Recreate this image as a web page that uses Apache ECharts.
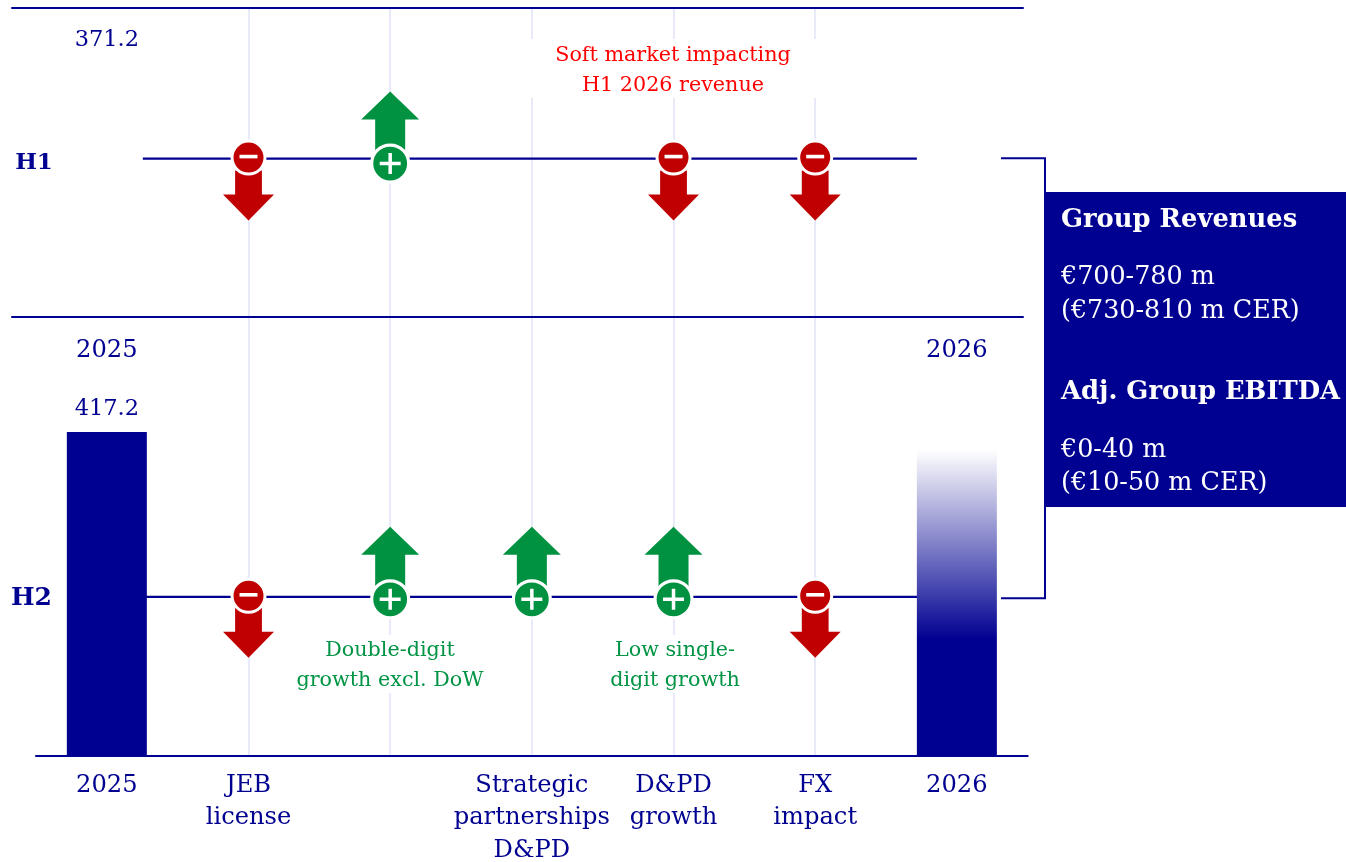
<!DOCTYPE html>
<html><head><meta charset="utf-8">
<style>html,body{margin:0;padding:0;background:#fff}#c{width:1346px;height:862px}</style>
<script src="https://cdn.jsdelivr.net/npm/echarts@6/dist/echarts.min.js"></script>
</head><body><div id="c"></div>
<script>
const h2Categories = ['2025', 'JEB\nlicense', '', 'Strategic\npartnerships\nD&PD', 'D&PD\ngrowth', 'FX\nimpact', '2026'];
const h1Categories = ['2025', '', '', '', '', '', '2026'];
const h1Bars = [371.2, null, null, null, null, null, null];
const h2Bars = [417.2, null, null, null, null, null, 394];
const h1Level = 222;
const h2Level = 205;
const h1Direction = [0, -1, 1, 0, -1, -1, 0];
const h2Direction = [0, -1, 1, 1, 1, -1, 0];
const boxLines = [
  ['Group Revenues', true, 220], ['€700-780 m', false, 277], ['(€730-810 m CER)', false, 311],
  ['Adj. Group EBITDA', true, 392], ['€0-40 m', false, 450], ['(€10-50 m CER)', false, 483]
];
const notes = [
  ['Soft market impacting\nH1 2026 revenue', 673, 71, '#ff0000'],
  ['Double-digit\ngrowth excl. DoW', 390, 666, '#009444'],
  ['Low single-\ndigit growth', 675, 666, '#009444']
];

const NAVY = '#000091', RED = '#c00000', GREEN = '#009240', GRID = '#e8eafa';
const FONT = '"DejaVu Serif", serif';
const ARROW_UP = 'path://M29 0L58 28L44 28L44 60L14 60L14 28L0 28Z';
const ARROW_DOWN = 'path://M12.1 0L38.9 0L38.9 24L51 24L25.5 50L0 24L12.1 24Z';
const PLUS = 'path://M8.75 0L12.25 0L12.25 8.75L21 8.75L21 12.25L12.25 12.25L12.25 21L8.75 21L8.75 12.25L0 12.25L0 8.75L8.75 8.75Z';

function pts(dir, sign, level) {
  return dir.map((d, i) => d === sign ? [i, level] : null).filter(Boolean);
}
function scatter(idx, data, o) {
  return Object.assign({ type: 'scatter', xAxisIndex: idx, yAxisIndex: idx, data, silent: true, animation: false }, o);
}
function solid(c, extra) { return Object.assign({ color: c, opacity: 1 }, extra || {}); }
function rowSeries(idx, cats, level, dir, plusOff, upOff, downOff) {
  const gridLines = [1, 2, 3, 4, 5].map(i => ({ xAxis: i }));
  return [
    { type: 'line', xAxisIndex: idx, yAxisIndex: idx, z: 2, silent: true, animation: false, symbol: 'none',
      data: cats.map((c, i) => [i, level]), lineStyle: { color: NAVY, width: 2.2 },
      markLine: { silent: true, symbol: 'none', animation: false, z: 1, label: { show: false },
        lineStyle: { color: GRID, width: 2, type: 'solid' }, data: gridLines } },
    scatter(idx, pts(dir, 1, level), { z: 6, symbol: ARROW_UP, symbolSize: [58, 60], symbolOffset: [0, upOff], itemStyle: solid(GREEN) }),
    scatter(idx, pts(dir, -1, level), { z: 6, symbol: ARROW_DOWN, symbolSize: [51, 50], symbolOffset: [0, downOff], itemStyle: solid(RED) }),
    scatter(idx, pts(dir, 1, level), { z: 7, symbol: 'circle', symbolSize: 37, symbolOffset: [0, plusOff], itemStyle: solid(GREEN, { borderColor: '#fff', borderWidth: 3.2 }) }),
    scatter(idx, pts(dir, -1, level), { z: 7, symbol: 'circle', symbolSize: 33, symbolOffset: [0, -1], itemStyle: solid(RED, { borderColor: '#fff', borderWidth: 3 }) }),
    scatter(idx, pts(dir, 1, level), { z: 8, symbol: PLUS, symbolSize: 21, symbolOffset: [0, plusOff], itemStyle: solid('#fff') }),
    scatter(idx, pts(dir, -1, level), { z: 8, symbol: 'rect', symbolSize: [18, 3.6], symbolOffset: [0, -2], itemStyle: solid('#fff') })
  ];
}
function catAxis(idx, cats, showLine, margin) {
  return { type: 'category', gridIndex: idx, data: cats, position: 'bottom', z: 5,
    axisTick: { show: false },
    axisLine: { show: showLine, onZero: false, lineStyle: { color: NAVY, width: 2 } },
    axisLabel: { interval: 0, color: NAVY, fontFamily: FONT, fontSize: 24.2, lineHeight: 32.5, margin, overflow: 'none', hideOverlap: false },
    splitLine: { show: false } };
}
function valAxis(idx, max) {
  return { type: 'value', gridIndex: idx, min: 0, max, show: false, splitLine: { show: false } };
}
function frameAxis(position) {
  return { type: 'value', gridIndex: 2, min: 0, max: 1, position, z: 5, axisLabel: { show: false }, axisTick: { show: false },
    splitLine: { show: false }, axisLine: { show: true, onZero: false, lineStyle: { color: NAVY, width: 2 } } };
}

const chart = echarts.init(document.getElementById('c'), null, { renderer: 'canvas' });
chart.setOption({
  animation: false,
  backgroundColor: '#fff',
  textStyle: { fontFamily: FONT },
  grid: [
    { left: 36, top: 8, width: 991.7, height: 309, outerBoundsMode: 'none' },
    { left: 36, top: 317, width: 991.7, height: 439, outerBoundsMode: 'none' },
    { left: 12, top: 8, width: 1011, height: 309, outerBoundsMode: 'none' }
  ],
  xAxis: [catAxis(0, h1Categories, false, 17), catAxis(1, h2Categories, true, 13), frameAxis('top'), frameAxis('bottom')],
  yAxis: [valAxis(0, 433), valAxis(1, 565.3), valAxis(2, 1)],
  series: [
    ...rowSeries(0, h1Categories, h1Level, h1Direction, 5, -37, 37),
    ...rowSeries(1, h2Categories, h2Level, h2Direction, 2.5, -40, 36),
    { type: 'bar', xAxisIndex: 0, yAxisIndex: 0, z: 4, silent: true, animation: false, barWidth: 72,
      data: h1Bars, itemStyle: { color: '#fff' },
      label: { show: true, position: 'top', distance: 0, color: NAVY, fontFamily: FONT, fontSize: 22.5, formatter: p => p.value.toFixed(1) } },
    scatter(0, [[6, h1Level]], { z: 4, symbol: 'rect', symbolSize: [80, 8], itemStyle: solid('#fff') }),
    { type: 'bar', xAxisIndex: 1, yAxisIndex: 1, z: 4, silent: true, animation: false, barWidth: 80,
      data: h2Bars.map((v, i) => i === 6 ? ({ value: v, itemStyle: { color: { type: 'linear', x: 0, y: 0, x2: 0, y2: 1,
        colorStops: [{ offset: 0, color: '#ffffff' }, { offset: 0.62, color: NAVY }, { offset: 1, color: NAVY }] } }, label: { show: false } }) :
        ({ value: v, itemStyle: { color: NAVY }, label: { show: i === 0 } })),
      label: { show: true, position: 'top', distance: 11, color: NAVY, fontFamily: FONT, fontSize: 22.5, formatter: p => p.value.toFixed(1) } },
    { type: 'line', xAxisIndex: 2, yAxisIndex: 2, data: [], silent: true },
    { type: 'line', xAxisIndex: 3, yAxisIndex: 2, data: [], silent: true }
  ],
  graphic: [
    { type: 'polyline', z: 20, shape: { points: [[1001, 158.3], [1045, 158.3], [1045, 598.3], [1001, 598.3]] }, style: { stroke: NAVY, lineWidth: 2, fill: 'none' } },
    { type: 'rect', z: 21, shape: { x: 1045, y: 192, width: 301, height: 315 }, style: { fill: NAVY } },
    ...boxLines.map(([t, b, y]) => ({ type: 'text', z: 22, x: 1061, y, style: { text: t, fill: '#fff', font: (b ? 'bold 25.8px ' : '25.4px ') + FONT, textAlign: 'left', textVerticalAlign: 'middle' } })),
    { type: 'text', z: 22, x: 34, y: 163, style: { text: 'H1', fill: NAVY, font: 'bold 23px ' + FONT, textAlign: 'center', textVerticalAlign: 'middle' } },
    { type: 'text', z: 22, x: 31.5, y: 598, style: { text: 'H2', fill: NAVY, font: 'bold 25px ' + FONT, textAlign: 'center', textVerticalAlign: 'middle' } },
    { type: 'rect', z: 3, shape: { x: 522, y: 39, width: 305, height: 59 }, style: { fill: '#fff' } },
    { type: 'rect', z: 3, shape: { x: 290, y: 635, width: 200, height: 58 }, style: { fill: '#fff' } },
    { type: 'rect', z: 3, shape: { x: 575, y: 635, width: 200, height: 58 }, style: { fill: '#fff' } },
    ...notes.map(([t, x, y, c]) => ({ type: 'text', z: 4, x, y, style: { text: t, fill: c, font: '20.7px ' + FONT, lineHeight: 30, textAlign: 'center', textVerticalAlign: 'middle' } }))
  ]
});
</script></body></html>
